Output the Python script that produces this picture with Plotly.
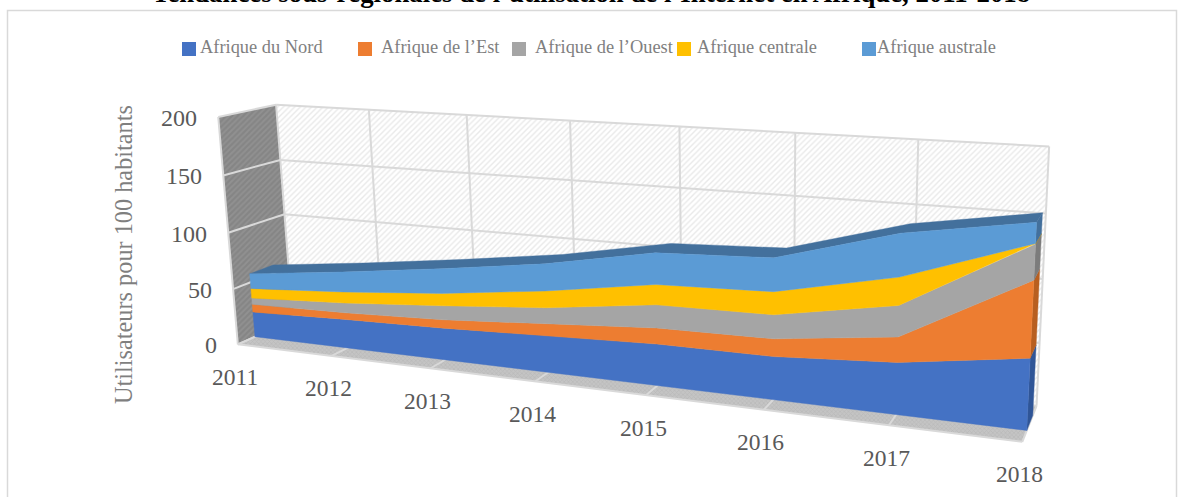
import numpy as np
import plotly.graph_objects as go

years = ["2011", "2012", "2013", "2014", "2015", "2016", "2017", "2018"]
nord = [22.8, 25.7, 27.8, 31.5, 34.6, 34.9, 41, 55]
est = [7.1, 5.9, 7.3, 10.2, 13.2, 14.2, 19.7, 58]
ouest = [5.7, 8.8, 12.2, 13.3, 19, 19.2, 24.3, 26.2]
centrale = [8.7, 9.8, 10.7, 14.1, 16.5, 18.2, 21.6, 0.5]
australe = [13.5, 17.7, 21.2, 22.6, 25.6, 26.5, 33, 15.3]
series_names = ["Afrique du Nord", "Afrique de l\u2019Est", "Afrique de l\u2019Ouest",
                "Afrique centrale", "Afrique australe"]
series_values = [nord, est, ouest, centrale, australe]
value_ticks = [0, 50, 100, 150, 200]
title_text = "Tendances sous-r\u00e9gionales de l\u2019utilisation de l\u2019Internet en Afrique, 2011-2018"
axis_title = "Utilisateurs pour 100 habitants"

colors = ["#4472C4", "#ED7D31", "#A5A5A5", "#FFC000", "#5B9BD5"]
side_colors = ["#2F5597", "#B85F20", "#7C7C7C", "#BF9000", "#43709C"]
top_color = "#43709C"
grid = "#D9D9D9"
W, H = 1184, 497

# Camera calibration: (year index, value, depth) -> picture position.
# Plotly's scene camera has a fixed 45 degree field of view, too wide for this
# long-lens 3D area view, so the 3D projection is solved here and the result
# drawn on ordinary axes.
calib = [
    (0, 200, 1, 277, 105), (1, 200, 1, 369, 110), (2, 200, 1, 466, 115), (3, 200, 1, 570, 120),
    (4, 200, 1, 679, 127), (5, 200, 1, 795, 133), (6, 200, 1, 918, 140), (7, 200, 1, 1050, 145.5),
    (0, 150, 1, 280, 160), (0, 100, 1, 284.5, 214), (7, 150, 1, 1046, 213),
    (0, 200, 0, 217.5, 117), (0, 150, 0, 224, 175), (0, 100, 0, 228.5, 233),
    (0, 50, 0, 233, 289), (0, 0, 0, 236, 345),
    (1, 0, 0, 332, 356), (2, 0, 0, 432, 367), (3, 0, 0, 536, 381), (4, 0, 0, 646.5, 395),
    (5, 0, 0, 763, 410), (6, 0, 0, 890, 425), (7, 0, 0, 1021, 443),
]
A, b = [], []
for X, Y, Z, u, v in calib:
    y = Y / 100
    A.append([X, y, Z, 1, 0, 0, 0, 0, -u * X, -u * y, -u * Z]); b.append(u)
    A.append([0, 0, 0, 0, X, y, Z, 1, -v * X, -v * y, -v * Z]); b.append(v)
p = np.linalg.lstsq(np.array(A, float), np.array(b, float), rcond=None)[0]
P = np.array([p[:4], p[4:8], list(p[8:]) + [1.0]])


def proj(X, Y, Z):
    h = P @ np.array([X, Y / 100, Z, 1.0])
    return h[0] / h[2], h[1] / h[2]


def path(pts):
    xy = [proj(*q) for q in pts]
    return [a for a, _ in xy], [c for _, c in xy]


fig = go.Figure()


def poly(pts, color=None, pattern=None):
    x, y = path(pts)
    kw = dict(fillcolor=color) if color else {}
    if pattern:
        kw["fillpattern"] = pattern
    fig.add_trace(go.Scatter(x=x + x[:1], y=y + y[:1], mode="lines", line=dict(width=0.4, color=color or "rgba(0,0,0,0)"),
                             fill="toself", hoverinfo="skip", showlegend=False, **kw))


def lines(segments, color=grid, width=2):
    xs, ys = [], []
    for s in segments:
        x, y = path(s)
        xs += x + [None]
        ys += y + [None]
    fig.add_trace(go.Scatter(x=xs, y=ys, mode="lines", line=dict(color=color, width=width),
                             hoverinfo="skip", showlegend=False))


n = len(years)
last = n - 1
vmax = value_ticks[-1]
# walls and floor
poly([(0, 0, 1), (last, 0, 1), (last, vmax, 1), (0, vmax, 1)], None,
     dict(shape="/", size=4, solidity=0.35, fgcolor="#D4D4D4", bgcolor="#FFFFFF"))
poly([(0, 0, 0), (0, 0, 1), (0, vmax, 1), (0, vmax, 0)], None,
     dict(shape="/", size=4, solidity=0.45, fgcolor="#9E9E9E", bgcolor="#858585"))
poly([(0, 0, 0), (last, 0, 0), (last, 0, 1), (0, 0, 1)], None,
     dict(shape="x", size=3, solidity=0.4, fgcolor="#ADADAD", bgcolor="#C4C4C4"))
segs = []
for t in value_ticks:
    segs.append([(0, t, 1), (last, t, 1)])
    segs.append([(0, t, 0), (0, t, 1)])
for i in range(n):
    segs.append([(i, 0, 1), (i, vmax, 1)])
    segs.append([(i, 0, 0), (i, 0, 1)])
segs.append([(0, 0, 0), (0, vmax, 0)])
segs.append([(0, 0, 0), (last, 0, 0)])
lines(segs)

# stacked 3D area
z_front, z_back = 0.3, 0.72
cum = np.cumsum(np.array(series_values, float), axis=0)
base = np.vstack([np.zeros(n), cum[:-1]])
top_total = cum[-1]
poly([(i, top_total[i], z_front) for i in range(n)] + [(i, top_total[i], z_back) for i in range(last, -1, -1)], top_color)
for k in range(len(series_values)):
    poly([(last, base[k][last], z_front), (last, cum[k][last], z_front),
          (last, cum[k][last], z_back), (last, base[k][last], z_back)], side_colors[k])
for k in range(len(series_values)):
    poly([(i, base[k][i], z_front) for i in range(n)] + [(i, cum[k][i], z_front) for i in range(last, -1, -1)], colors[k])

# frame
fig.add_shape(type="rect", x0=7.5, y0=10.5, x1=1176.5, y1=520, line=dict(color=grid, width=1.5), layer="below")

ann = []
for t in value_ticks:
    x, y = proj(0, t, 0)
    ann.append(dict(x=x - 19, y=y + 1, text=str(t), xanchor="right", yanchor="middle",
                    font=dict(size=24, color="#595959", family="Liberation Serif")))
for i, yr in enumerate(years):
    x, y = proj(i, 0, 0)
    ann.append(dict(x=x - 3, y=y + 32.5, text=yr, xanchor="center", yanchor="middle",
                    font=dict(size=23.5, color="#595959", family="Liberation Serif")))
ann.append(dict(x=123, y=255, text=axis_title, textangle=-90, xanchor="center", yanchor="middle",
                font=dict(size=24.3, color="#7F7F7F", family="Liberation Serif")))
ann.append(dict(x=591, y=10, text="<b>" + title_text + "</b>", xanchor="center", yanchor="bottom",
                font=dict(size=26.8, color="#000000", family="Liberation Serif")))

swatch_x = [182, 358, 512, 677, 862]
label_x = [198, 379, 533, 695, 875]
for name, col, sx, lx in zip(series_names, colors, swatch_x, label_x):
    fig.add_shape(type="rect", x0=sx, x1=sx + 14, y0=42, y1=56, fillcolor=col, line=dict(width=0))
    ann.append(dict(x=lx, y=46.5, text=name, xanchor="left", yanchor="middle",
                    font=dict(size=18.4, color="#7F7F7F", family="Liberation Serif")))
for a in ann:
    a.update(xref="x", yref="y", showarrow=False)

fig.update_layout(width=W, height=H, margin=dict(l=0, r=0, t=0, b=0), paper_bgcolor="white",
                  plot_bgcolor="white", showlegend=False, annotations=ann,
                  xaxis=dict(range=[0, W], visible=False, fixedrange=True),
                  yaxis=dict(range=[H, 0], visible=False, fixedrange=True))
fig.write_html("out.html", config={"displayModeBar": False},
               post_script="document.body.style.margin='0';document.documentElement.style.overflow='hidden';")
